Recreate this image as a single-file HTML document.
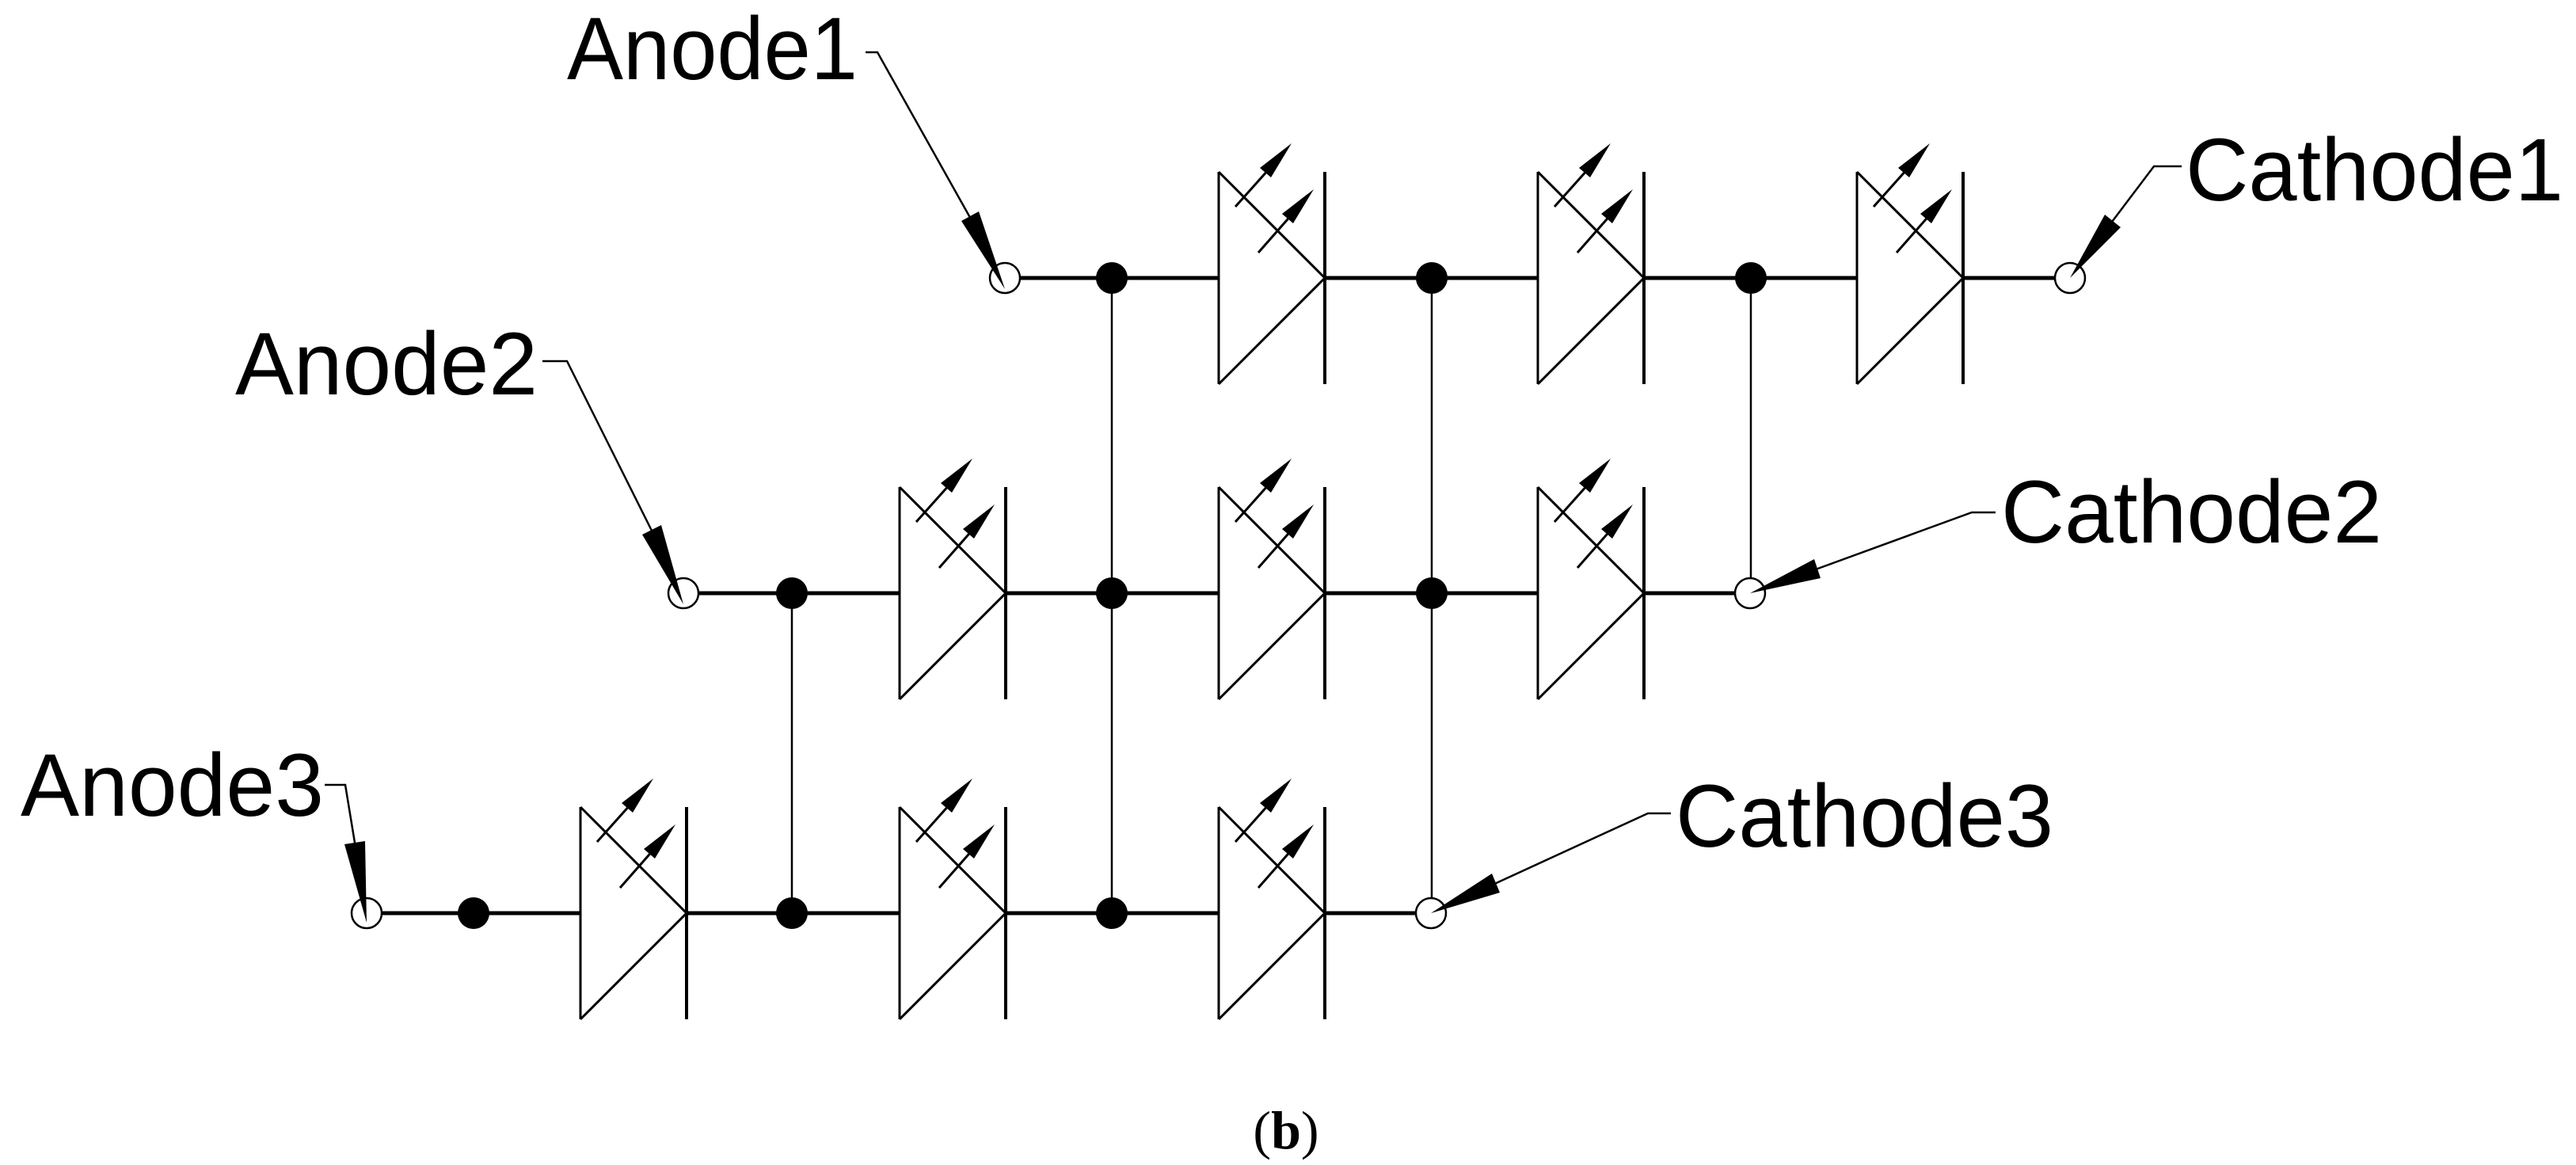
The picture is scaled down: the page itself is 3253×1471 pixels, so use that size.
<!DOCTYPE html>
<html><head><meta charset="utf-8"><style>html,body{margin:0;padding:0;background:#fff}svg{display:block}</style></head>
<body>
<svg width="3253" height="1471" viewBox="0 0 3253 1471" xmlns="http://www.w3.org/2000/svg">
<defs>
<g id="led" stroke="#000" stroke-width="3" fill="none">
<line x1="0" y1="-134" x2="0" y2="134"/>
<polyline points="0,-134 134,0 0,134"/>
<line x1="134" y1="-134" x2="134" y2="134" stroke-width="4"/>
<line x1="21" y1="-90" x2="80" y2="-156"/>
<polygon points="92,-170 52,-139 66,-127" fill="#000" stroke="none"/>
<line x1="50" y1="-32" x2="108" y2="-98"/>
<polygon points="120,-112 80,-81 94,-69" fill="#000" stroke="none"/>
</g>
</defs>
<rect width="3253" height="1471" fill="#fff"/>
<g stroke="#000" stroke-width="5" fill="none">
<line x1="1269" y1="351" x2="1539" y2="351"/>
<line x1="1673" y1="351" x2="1942" y2="351"/>
<line x1="2076" y1="351" x2="2345" y2="351"/>
<line x1="2479" y1="351" x2="2614" y2="351"/>
<line x1="863" y1="749" x2="1136" y2="749"/>
<line x1="1270" y1="749" x2="1539" y2="749"/>
<line x1="1673" y1="749" x2="1942" y2="749"/>
<line x1="2076" y1="749" x2="2210" y2="749"/>
<line x1="463" y1="1153" x2="733" y2="1153"/>
<line x1="867" y1="1153" x2="1136" y2="1153"/>
<line x1="1270" y1="1153" x2="1539" y2="1153"/>
<line x1="1673" y1="1153" x2="1807" y2="1153"/>
</g>
<g stroke="#000" stroke-width="2.5" fill="none">
<line x1="1404" y1="351" x2="1404" y2="1153"/>
<line x1="1808" y1="351" x2="1808" y2="1153"/>
<line x1="2211" y1="351" x2="2211" y2="749"/>
<line x1="1000" y1="749" x2="1000" y2="1153"/>
</g>
<use href="#led" x="1539" y="351"/><use href="#led" x="1942" y="351"/><use href="#led" x="2345" y="351"/>
<use href="#led" x="1136" y="749"/><use href="#led" x="1539" y="749"/><use href="#led" x="1942" y="749"/>
<use href="#led" x="733" y="1153"/><use href="#led" x="1136" y="1153"/><use href="#led" x="1539" y="1153"/>
<g fill="#000">
<ellipse cx="1404" cy="351" rx="20" ry="20"/><ellipse cx="1808" cy="351" rx="20" ry="20"/><ellipse cx="2211" cy="351" rx="20" ry="20"/>
<ellipse cx="1000" cy="749" rx="20" ry="20"/><ellipse cx="1404" cy="749" rx="20" ry="20"/><ellipse cx="1808" cy="749" rx="20" ry="20"/>
<ellipse cx="598" cy="1153" rx="20" ry="20"/><ellipse cx="1000" cy="1153" rx="20" ry="20"/><ellipse cx="1404" cy="1153" rx="20" ry="20"/>
</g>
<g fill="#fff" stroke="#000" stroke-width="2.5">
<circle cx="1269" cy="351" r="19"/><circle cx="2614" cy="351" r="19"/>
<circle cx="863" cy="749" r="19"/><circle cx="2210" cy="749" r="19"/>
<circle cx="463" cy="1153" r="19"/><circle cx="1807" cy="1153" r="19"/>
</g>
<g stroke="#000" stroke-width="2.5" fill="none">
<polyline points="1093,66 1108,66 1228,280"/>
<polyline points="685,456 716,456 826,676"/>
<polyline points="410,991 436,991 449,1070"/>
<polyline points="2755,210 2720,210 2664,284"/>
<polyline points="2520,647 2490,647 2290,720"/>
<polyline points="2110,1027 2081,1027 1883,1118"/>
</g>
<g fill="#000">
<polygon points="1269,365 1236,267 1214,279"/>
<polygon points="863,763 835,663 811,675"/>
<polygon points="463,1165 461,1062 435,1066"/>
<polygon points="2614,351 2678,287 2658,271"/>
<polygon points="2210,749 2299,730 2291,706"/>
<polygon points="1807,1153 1894,1127 1884,1103"/>
</g>
<g font-family="'Liberation Sans', Arial, sans-serif" font-size="112" fill="#000">
<text x="716" y="100" textLength="367" lengthAdjust="spacingAndGlyphs">Anode1</text>
<text x="297" y="498" textLength="382" lengthAdjust="spacingAndGlyphs">Anode2</text>
<text x="26" y="1030" textLength="383" lengthAdjust="spacingAndGlyphs">Anode3</text>
<text x="2760" y="253" textLength="477" lengthAdjust="spacingAndGlyphs">Cathode1</text>
<text x="2527" y="685" textLength="481" lengthAdjust="spacingAndGlyphs">Cathode2</text>
<text x="2116" y="1069" textLength="477" lengthAdjust="spacingAndGlyphs">Cathode3</text>
</g>
<text x="1624" y="1450" text-anchor="middle" font-family="'Liberation Serif', serif" font-size="68" fill="#000">(<tspan font-weight="bold">b</tspan>)</text>
</svg>
</body></html>
